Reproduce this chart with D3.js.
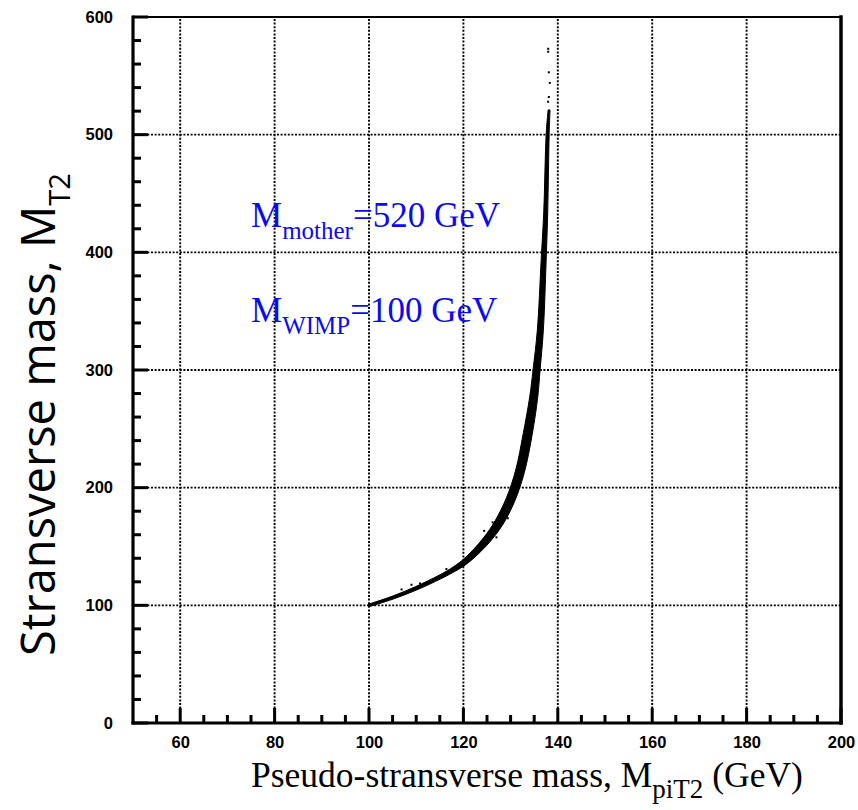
<!DOCTYPE html>
<html>
<head>
<meta charset="utf-8">
<script src="https://cdn.jsdelivr.net/npm/d3@7"></script>
<style>
  html, body { margin: 0; padding: 0; background: #fff; }
  svg { display: block; }
</style>
</head>
<body>
<script>
// Axis ticks (GeV)
const xMajorTicks = [60, 80, 100, 120, 140, 160, 180, 200];
const xMinorTicks = [55, 65, 70, 75, 85, 90, 95, 105, 110, 115, 125, 130, 135, 145, 150, 155, 165, 170, 175, 185, 190, 195];
const yMajorTicks = [0, 100, 200, 300, 400, 500, 600];
const yMinorTicks = [20, 40, 60, 80, 120, 140, 160, 180, 220, 240, 260, 280, 320, 340, 360, 380, 420, 440, 460, 480, 520, 540, 560, 580];

// Event band: upper/left edge and lower/right edge, [M_piT2, M_T2] in GeV
const bandUpper = [
  [99.92, 101.01], [104.89, 107.7], [109.85, 115.86], [114.81, 125.51],
  [117.26, 131.14], [119.64, 137.85], [122.01, 146.96], [124.38, 157.99],
  [126.72, 171.83], [129.12, 191.43], [131.08, 214.99], [132.66, 245.68],
  [134.06, 277.45], [134.76, 300.3], [135.67, 334.2], [136.47, 393.1],
  [137.03, 435], [137.53, 500], [137.94, 521]
];
const bandLower = [
  [100.08, 98.99], [105.11, 105.3], [110.15, 113.14], [115.19, 122.49],
  [117.74, 127.86], [120.36, 134.15], [122.99, 143.04], [125.62, 154.01],
  [128.28, 168.17], [130.88, 188.57], [132.92, 213.01], [134.54, 244.32],
  [135.74, 276.55], [136.24, 299.7], [136.94, 333.8], [137.53, 392.9],
  [137.87, 435], [138.17, 500], [138.36, 521]
];
// Isolated events off the main band
const strayEvents = [
  [137.97, 573], [137.97, 570.5], [138.1, 553], [138.3, 544], [138.1, 532],
  [137.95, 528], [106.9, 113.5], [109, 117.5], [110.8, 118.6], [116.4, 130.9],
  [124.4, 163.3], [127, 157.8], [126.2, 170.5], [129.4, 174.0]
];

const xDomain = [50, 200];
const yDomain = [0, 600];

const W = 858, H = 810;
const plot = { left: 133, right: 841, top: 17, bottom: 723 };

const svg = d3.select("body").append("svg")
  .attr("width", W).attr("height", H)
  .attr("viewBox", `0 0 ${W} ${H}`);

const x = d3.scaleLinear().domain(xDomain).range([plot.left, plot.right]);
const y = d3.scaleLinear().domain(yDomain).range([plot.bottom, plot.top]);

// Dotted grid at the interior major ticks
const grid = svg.append("g")
  .attr("stroke", "#000")
  .attr("stroke-width", 1.9)
  .attr("stroke-dasharray", "2,1.6");
grid.selectAll("line.gx")
  .data(xMajorTicks.filter(v => v > xDomain[0] && v < xDomain[1]))
  .join("line").attr("class", "gx")
  .attr("x1", d => x(d)).attr("x2", d => x(d))
  .attr("y1", plot.bottom).attr("y2", plot.top);
grid.selectAll("line.gy")
  .data(yMajorTicks.filter(v => v > yDomain[0] && v < yDomain[1]))
  .join("line").attr("class", "gy")
  .attr("y1", d => y(d)).attr("y2", d => y(d))
  .attr("x1", plot.left).attr("x2", plot.right);

// Event band
const edge = d3.line().x(d => x(d[0])).y(d => y(d[1])).curve(d3.curveCatmullRom.alpha(0.5));
const upperPath = edge(bandUpper);
const lowerPath = edge(bandLower.slice().reverse());
svg.append("path")
  .attr("d", upperPath + "L" + lowerPath.substring(1) + "Z")
  .attr("fill", "#000")
  .attr("stroke", "#000")
  .attr("stroke-width", 1)
  .attr("stroke-linejoin", "round");

svg.append("g").selectAll("rect")
  .data(strayEvents)
  .join("rect")
  .attr("x", d => x(d[0]) - 1)
  .attr("y", d => y(d[1]) - 1)
  .attr("width", 2).attr("height", 2)
  .attr("fill", "#000");

// Inward tick marks, drawn as filled bars
const tickW = 3;
const tickLayer = svg.append("g").attr("fill", "#000");
const tickSets = [
  { vals: xMinorTicks, len: 8, axis: "x" },
  { vals: xMajorTicks, len: 15, axis: "x" },
  { vals: yMinorTicks, len: 8, axis: "y" },
  { vals: yMajorTicks, len: 15, axis: "y" }
];
tickSets.forEach(s => {
  tickLayer.append("g").selectAll("rect")
    .data(s.vals)
    .join("rect")
    .attr("x", d => s.axis === "x" ? x(d) - tickW / 2 : plot.left)
    .attr("y", d => s.axis === "x" ? plot.bottom - s.len : y(d) - tickW / 2)
    .attr("width", s.axis === "x" ? tickW : s.len)
    .attr("height", s.axis === "x" ? s.len : tickW);
});

// Tick labels through d3 axes
const tickFont = "'Liberation Sans', Arial, sans-serif";
function styleAxis(g) {
  g.select(".domain").remove();
  g.selectAll(".tick line").remove();
  g.selectAll(".tick text")
    .attr("fill", "#000")
    .style("font-family", tickFont)
    .style("font-weight", "bold")
    .style("font-size", "16.5px");
}
svg.append("g")
  .attr("transform", `translate(0,${plot.bottom})`)
  .call(d3.axisBottom(x).tickValues(xMajorTicks).tickSize(0).tickPadding(13).tickFormat(d3.format("d")))
  .call(styleAxis);
svg.append("g")
  .attr("transform", `translate(${plot.left},0)`)
  .call(d3.axisLeft(y).tickValues(yMajorTicks).tickSize(0).tickPadding(20).tickFormat(d3.format("d")))
  .call(styleAxis);

// Frame
const frame = svg.append("g").attr("stroke", "#000").attr("stroke-linecap", "square");
frame.append("line").attr("x1", plot.left).attr("x2", plot.right).attr("y1", plot.top).attr("y2", plot.top).attr("stroke-width", 2);
frame.append("line").attr("x1", plot.right).attr("x2", plot.right).attr("y1", plot.top).attr("y2", plot.bottom).attr("stroke-width", 3.5);
frame.append("line").attr("x1", plot.left).attr("x2", plot.right).attr("y1", plot.bottom).attr("y2", plot.bottom).attr("stroke-width", 3.2);
frame.append("line").attr("x1", plot.left).attr("x2", plot.left).attr("y1", plot.top).attr("y2", plot.bottom).attr("stroke-width", 3.2);

// Parameter annotations
const serif = "'Liberation Serif', 'Times New Roman', serif";
const notes = [
  { main: "M", sub: "mother", rest: "=520 GeV", px: 251, py: 227 },
  { main: "M", sub: "WIMP", rest: "=100 GeV", px: 251, py: 322 }
];
notes.forEach(n => {
  const t = svg.append("text")
    .attr("x", n.px).attr("y", n.py)
    .attr("fill", "#0b0bf0")
    .style("font-family", serif)
    .style("font-size", "35px");
  t.append("tspan").text(n.main);
  t.append("tspan").attr("dy", 12).style("font-size", "25px").text(n.sub);
  t.append("tspan").attr("dy", -12).text(n.rest);
});

// Axis titles
const xt = svg.append("text")
  .attr("x", 251).attr("y", 787)
  .attr("fill", "#000")
  .style("font-family", serif)
  .style("font-size", "35.5px");
xt.append("tspan").text("Pseudo-stransverse mass, M");
xt.append("tspan").attr("dy", 11).style("font-size", "27px").text("piT2");
xt.append("tspan").attr("dy", -11).text(" (GeV)");

const yt = svg.append("text")
  .attr("transform", "translate(55,656) rotate(-90)")
  .attr("fill", "#000")
  .style("font-family", "'Open Sans', 'Noto Sans', sans-serif")
  .style("font-size", "47px");
yt.append("tspan").text("Stransverse mass, M");
yt.append("tspan").attr("dy", 15).style("font-size", "29px").text("T2");
</script>
</body>
</html>
